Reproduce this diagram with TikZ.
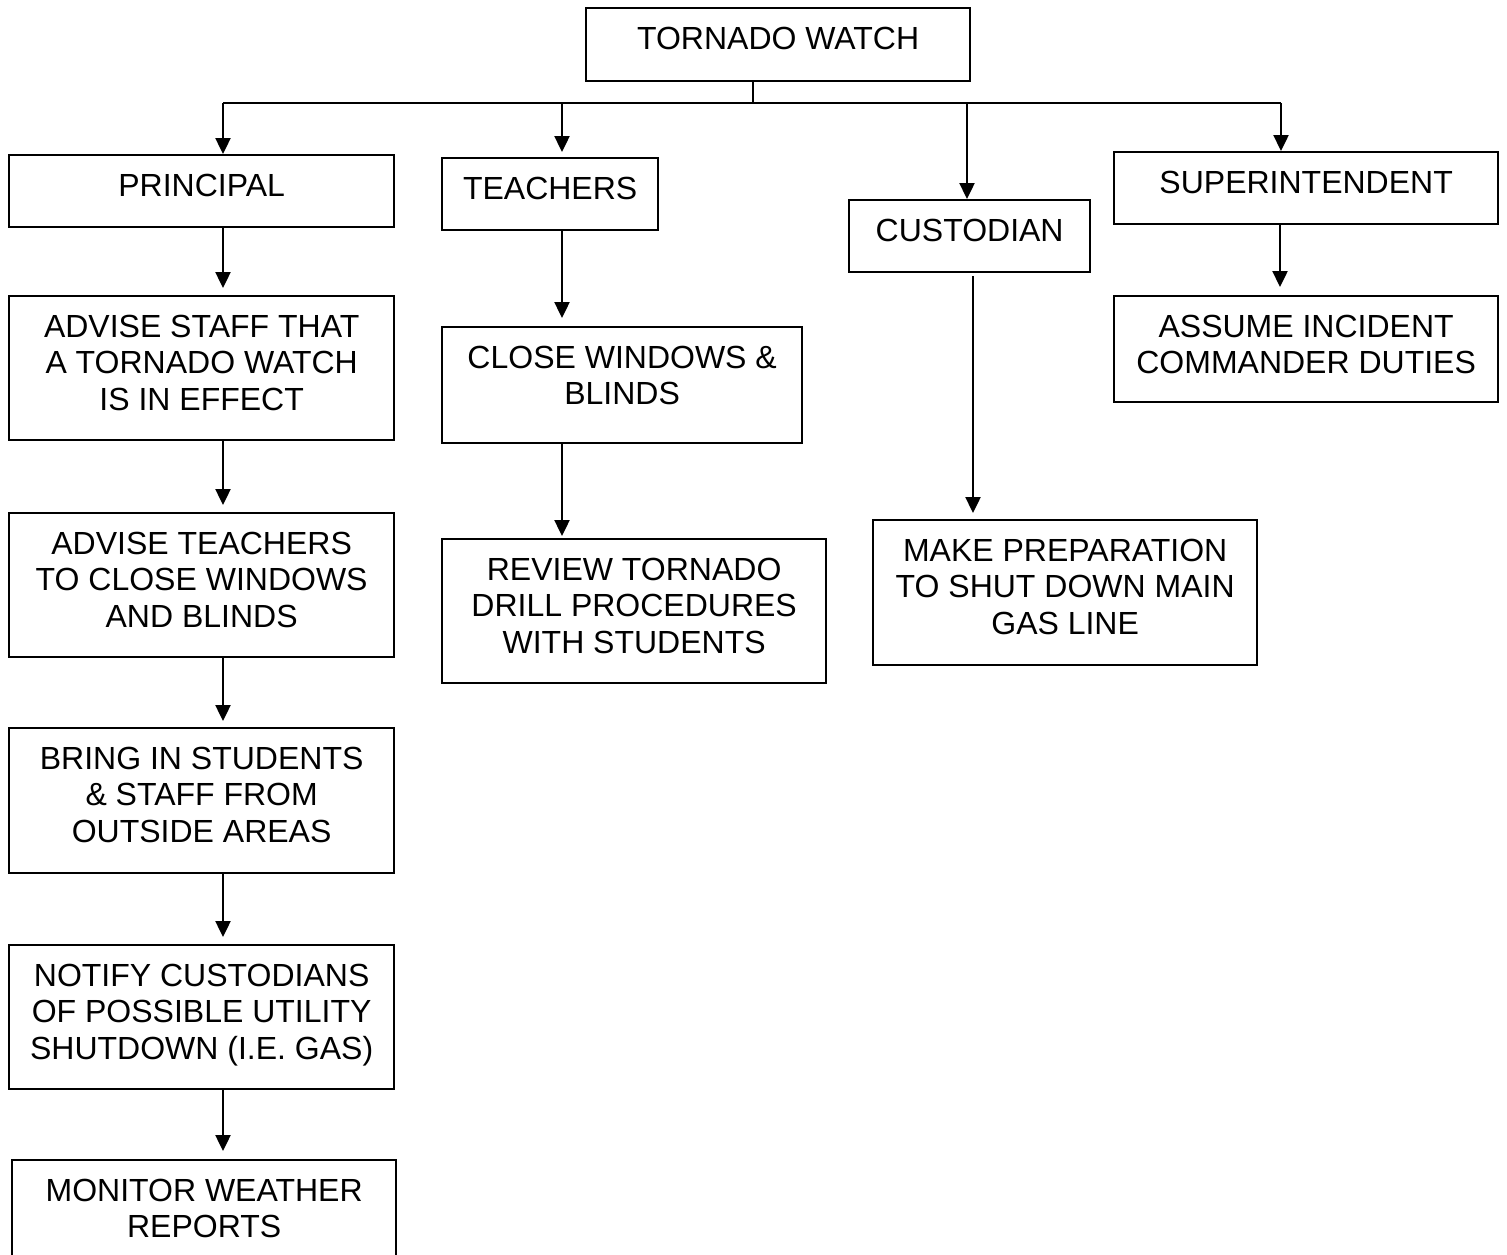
\documentclass[tikz,border=0pt]{standalone}
\usepackage{fontspec}
\setmainfont{Liberation Sans}
\usetikzlibrary{arrows.meta}
% fixed-size box content: text centred, hung from the top edge
\newcommand{\boxtext}[3]{\parbox[t][#2pt][t]{#1pt}{\centering\rule{0pt}{41pt}#3\par}}
\begin{document}
\begin{tikzpicture}[x=1pt,y=-1pt,
  box/.style={draw,line width=2.3pt,inner sep=0pt,anchor=north west,
              font=\fontsize{32}{36.7}\selectfont},
  arr/.style={line width=2.4pt,-{Triangle[width=15pt,length=16pt]}},
  link/.style={line width=2.4pt}]
\clip (0,0) rectangle (1507,1254);

% top of the tree
\node[box] (watch) at (585,7) {\boxtext{384}{73}{TORNADO WATCH}};

% principal column
\node[box] (prin)    at (8,154)  {\boxtext{385}{72}{PRINCIPAL}};
\node[box] (adv1)    at (8,295)  {\boxtext{385}{144}{ADVISE STAFF THAT\\A TORNADO WATCH\\IS IN EFFECT}};
\node[box] (adv2)    at (8,512)  {\boxtext{385}{144}{ADVISE TEACHERS\\TO CLOSE WINDOWS\\AND BLINDS}};
\node[box] (bring)   at (8,727)  {\boxtext{385}{145}{BRING IN STUDENTS\\\& STAFF FROM\\OUTSIDE AREAS}};
\node[box] (notify)  at (8,944)  {\boxtext{385}{144}{NOTIFY CUSTODIANS\\OF POSSIBLE UTILITY\\SHUTDOWN (I.E. GAS)}};
\node[box] (monitor) at (11,1159){\boxtext{384}{120}{MONITOR WEATHER\\REPORTS}};

% teachers column
\node[box] (teach)  at (441,157) {\boxtext{216}{72}{TEACHERS}};
\node[box] (close)  at (441,326) {\boxtext{360}{116}{CLOSE WINDOWS \&\\BLINDS}};
\node[box] (review) at (441,538) {\boxtext{384}{144}{REVIEW TORNADO\\DRILL PROCEDURES\\WITH STUDENTS}};

% custodian column
\node[box] (cust) at (848,199) {\boxtext{241}{72}{CUSTODIAN}};
\node[box] (prep) at (872,519) {\boxtext{384}{145}{MAKE PREPARATION\\TO SHUT DOWN MAIN\\GAS LINE}};

% superintendent column
\node[box] (super)  at (1113,151) {\boxtext{384}{72}{SUPERINTENDENT}};
\node[box] (assume) at (1113,295) {\boxtext{384}{106}{ASSUME INCIDENT\\COMMANDER DUTIES}};

% distribution bus
\coordinate (stem) at (753,103);
\coordinate (busL) at (223,103);
\coordinate (busT) at (562,103);
\coordinate (busC) at (967,103);
\coordinate (busR) at (1281,103);
\draw[link] (stem |- watch.south) -- (stem);
\draw[link] (busL) -- (busR);
\draw[arr] (busL) -- (busL |- prin.north);
\draw[arr,shorten >=5pt] (busT) -- (busT |- teach.north);
\draw[arr] (busC) -- (busC |- cust.north);
\draw[arr] (busR) -- (busR |- super.north);

% column axes for the chains
\coordinate (pc) at (223,0);
\coordinate (tc) at (562,0);
\coordinate (cc) at (973,0);
\coordinate (sc) at (1280,0);

\draw[arr,shorten >=7pt] (pc |- prin.south)  -- (pc |- adv1.north);
\draw[arr,shorten >=7pt] (pc |- adv1.south)  -- (pc |- adv2.north);
\draw[arr,shorten >=6pt] (pc |- adv2.south)  -- (pc |- bring.north);
\draw[arr,shorten >=7pt] (pc |- bring.south) -- (pc |- notify.north);
\draw[arr,shorten >=8pt] (pc |- notify.south) -- (pc |- monitor.north);

\draw[arr,shorten >=8pt] (tc |- teach.south) -- (tc |- close.north);
\draw[arr,shorten >=2pt] (tc |- close.south) -- (tc |- review.north);

\draw[arr,shorten <=3pt,shorten >=6pt] (cc |- cust.south) -- (cc |- prep.north);

\draw[arr,shorten >=8pt] (sc |- super.south) -- (sc |- assume.north);
\end{tikzpicture}
\end{document}
